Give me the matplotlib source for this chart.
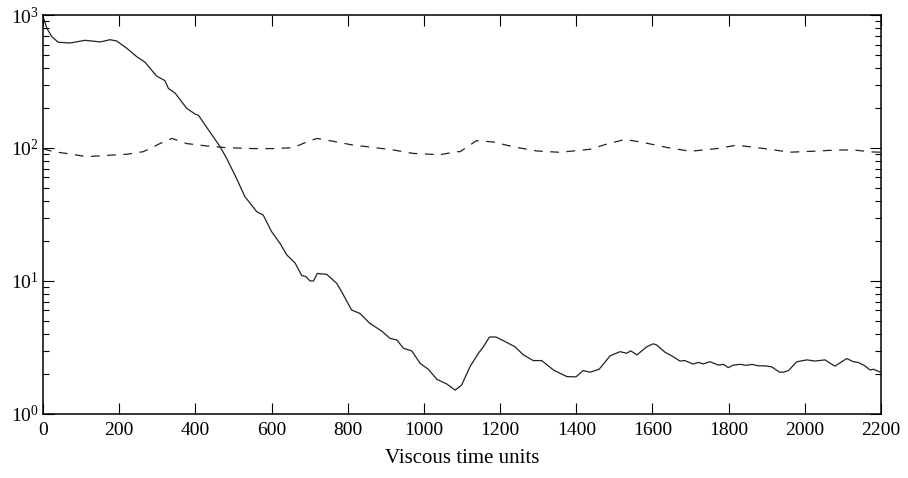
import matplotlib
matplotlib.use("Agg")
import matplotlib.pyplot as plt
from matplotlib.ticker import LogLocator, NullFormatter

plt.rcParams['font.family'] = ['Liberation Serif', 'DejaVu Serif']
plt.rcParams['mathtext.fontset'] = 'custom'
plt.rcParams['mathtext.rm'] = 'Liberation Serif'
plt.rcParams['mathtext.it'] = 'Liberation Serif:italic'

# solid curve
t_solid = [0, 3, 10, 23, 40, 71, 110, 123, 150, 176, 193, 220, 246, 268, 298, 320,
           329, 347, 377, 399, 408, 465, 482, 508, 530, 561, 578, 600, 622, 640,
           662, 679, 690, 701, 710, 720, 745, 771, 784, 810, 832, 858, 889, 911,
           929, 946, 968, 990, 1012, 1034, 1060, 1082, 1099, 1121, 1143, 1156,
           1172, 1189, 1213, 1239, 1261, 1287, 1309, 1340, 1375, 1399, 1418, 1436,
           1460, 1489, 1515, 1532, 1543, 1559, 1585, 1602, 1611, 1633, 1650, 1672,
           1685, 1707, 1720, 1734, 1751, 1773, 1786, 1799, 1812, 1830, 1847, 1861,
           1878, 1896, 1913, 1922, 1933, 1944, 1957, 1979, 2005, 2027, 2053, 2066,
           2079, 2097, 2110, 2127, 2140, 2158, 2171, 2180, 2197]
v_solid = [960, 917, 794, 687, 624, 616, 645, 640, 627, 652, 638, 562, 486, 441, 348, 321,
           281, 258, 199, 180, 176, 102, 83.6, 59, 43, 33.2, 31.3, 23.5, 19.2, 15.7,
           13.6, 11.0, 10.8, 10.0, 10.0, 11.4, 11.2, 9.6, 8.3, 6.05, 5.7, 4.8, 4.2, 3.7,
           3.6, 3.12, 2.98, 2.40, 2.16, 1.82, 1.68, 1.51, 1.65, 2.27, 2.86, 3.2,
           3.79, 3.79, 3.5, 3.2, 2.78, 2.52, 2.52, 2.14, 1.91, 1.90, 2.12, 2.06,
           2.17, 2.74, 2.94, 2.86, 2.98, 2.78, 3.2, 3.37, 3.3, 2.91, 2.74, 2.50,
           2.52, 2.37, 2.44, 2.38, 2.47, 2.33, 2.36, 2.23, 2.33, 2.36, 2.32, 2.36,
           2.30, 2.30, 2.26, 2.17, 2.065, 2.06, 2.12, 2.47, 2.55, 2.50, 2.55, 2.41,
           2.29, 2.47, 2.61, 2.47, 2.44, 2.30, 2.14, 2.17, 2.07]

# dashed curve
t_dash = [0, 5, 27, 62, 115, 167, 220, 263, 307, 338, 377, 430, 482, 552, 605, 657,
          692, 719, 753, 815, 867, 920, 972, 1042, 1086, 1095, 1138, 1182, 1235,
          1296, 1357, 1436, 1480, 1528, 1576, 1637, 1699, 1769, 1821, 1882, 1961,
          2022, 2084, 2127, 2180, 2200]
v_dash = [99, 97.8, 93.8, 91, 86, 88, 89.7, 93.8, 108, 118, 108, 103.5, 100.5, 99, 99, 100.5,
          111, 118, 113.5, 105, 101, 96.6, 91, 89, 93.8, 93.8, 113.5, 111, 102,
          95, 92.8, 97.8, 107, 116, 110, 101, 94.5, 99, 105, 100, 93,
          94.5, 96.6, 96.6, 93.3, 93]

x_ticks = [0, 200, 400, 600, 800, 1000, 1200, 1400, 1600, 1800, 2000, 2200]

fig = plt.figure(figsize=(9.08, 4.78), dpi=100)
ax = fig.add_axes([0.0474, 0.134, 0.9229, 0.8346])

ax.plot(t_solid, v_solid, color='#222222', lw=0.9)
ax.plot(t_dash, v_dash, color='#222222', lw=0.9, dashes=(7, 6))

ax.set_yscale('log')
ax.set_xlim(0, 2200)
ax.set_ylim(1, 1000)
ax.set_xticks(x_ticks)
ax.yaxis.set_major_locator(LogLocator(base=10, numticks=10))
ax.yaxis.set_minor_locator(LogLocator(base=10, subs=range(2, 10), numticks=20))
ax.yaxis.set_minor_formatter(NullFormatter())

ax.tick_params(which='both', direction='in', top=True, right=True, labelsize=14)
ax.tick_params(which='major', length=8, width=0.8)
ax.tick_params(which='minor', length=4, width=0.8)
ax.tick_params(axis='x', pad=6)
ax.tick_params(axis='y', pad=3)
for s in ax.spines.values():
    s.set_linewidth(1.1)

ax.set_xlabel('Viscous time units', fontsize=15, labelpad=7)

fig.savefig('out.png', dpi=100)
